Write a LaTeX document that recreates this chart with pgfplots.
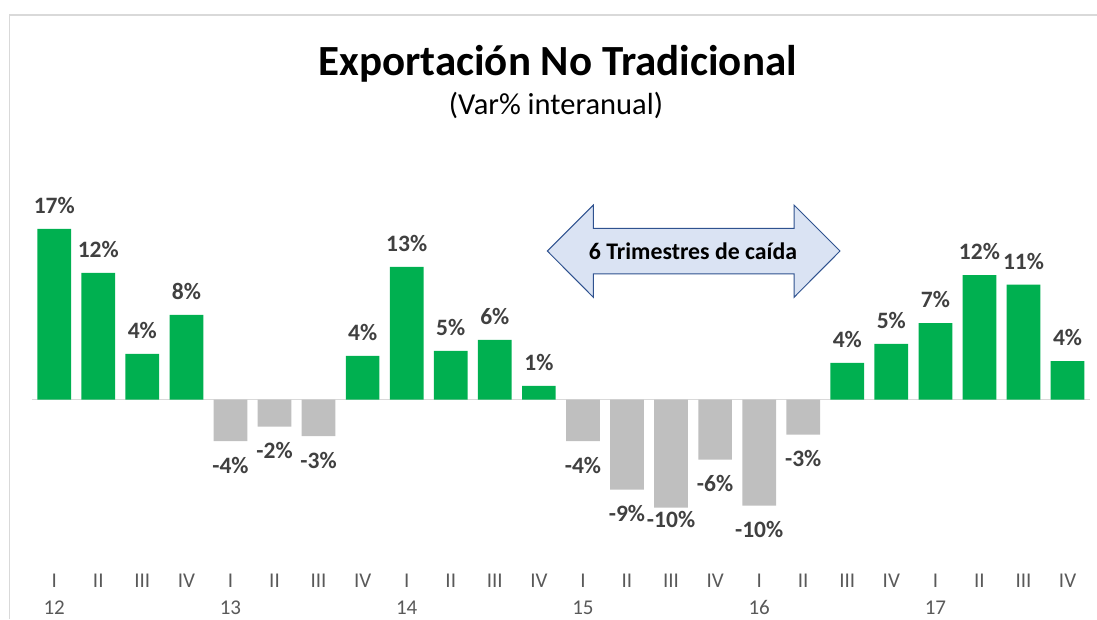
\documentclass[border=0pt]{standalone}
\usepackage{pgfplots}
\pgfplotsset{compat=1.18}
\usepackage{fontspec}
\setmainfont{Carlito}
\definecolor{cgreen}{HTML}{00B050}
\definecolor{cgray}{HTML}{BFBFBF}
\definecolor{ctext}{HTML}{404040}
\definecolor{ctick}{HTML}{595959}
\definecolor{cline}{HTML}{D9D9D9}
\definecolor{afill}{HTML}{DAE3F3}
\definecolor{aedge}{HTML}{2F528F}
\newcommand\raiselab[1]{\raisebox{12pt}[\height][\depth]{#1}}
\begin{document}
\begin{tikzpicture}[x=1pt,y=1pt]
\useasboundingbox (0,0) rectangle (1097,619);
\draw[cline, line width=1.5pt] (9.5,0) -- (9.5,604) -- (1097,604);
\begin{axis}[
  scale only axis,
  width=1057.4pt, height=350pt,
  at={(32.2pt,69.5pt)}, anchor=south west,
  xmin=-0.5, xmax=23.5, ymin=-15, ymax=20,
  ybar, bar width=33.7pt, bar shift=0pt,
  axis line style={draw=none},
  major tick length=0pt,
  ytick=\empty,
  extra y ticks={0}, extra y tick labels={},
  extra y tick style={grid=major, major grid style={draw=cline, line width=1.5pt}},
  xtick={0,...,23},
  xticklabels={I,II,III,IV,I,II,III,IV,I,II,III,IV,I,II,III,IV,I,II,III,IV,I,II,III,IV},
  xticklabel style={font=\fontsize{21}{24}\selectfont, text=ctick, anchor=base, yshift=-38pt},
  extra x ticks={0,4,8,12,16,20},
  extra x tick labels={12,13,14,15,16,17},
  extra x tick style={xticklabel style={yshift=-27pt}, grid=none},
  point meta=explicit symbolic,
  nodes near coords,
]
\addplot[fill=cgreen, draw=none,
  every node near coord/.append style={anchor=south, inner sep=0pt, yshift=15pt,
    font=\fontsize{23.5}{27}\selectfont\bfseries, text=ctext}]
  coordinates {
  (0,17.07) [17\%]
  (1,12.67) [12\%]
  (2,4.57) [4\%]
  (3,8.47) [8\%]
  (7,4.37) [4\%]
  (8,13.27) [13\%]
  (9,4.87) [5\%]
  (10,5.97) [6\%]
  (11,1.37) [1\%]
  (18,3.66) [4\%]
  (19,5.56) [5\%]
  (20,7.63) [7\%]
  (21,12.43) [12\%]
  (22,11.5) [11\%]
  (23,3.83) [4\%]
  };
\addplot[fill=cgray, draw=none,
  every node near coord/.append style={anchor=north, inner sep=0pt, yshift=-16pt,
    font=\fontsize{23.5}{27}\selectfont\bfseries, text=ctext}]
  coordinates {
  (4,-4.15) [-4\%]
  (5,-2.7) [-2\%]
  (6,-3.65) [-3\%]
  (12,-4.15) [-4\%]
  (13,-9.0) [-9\%]
  (14,-10.8) [\raiselab{-10\%}]
  (15,-6.0) [-6\%]
  (16,-10.6) [-10\%]
  (17,-3.5) [-3\%]
  };
\end{axis}
\node[anchor=base, font=\fontsize{43}{50}\selectfont\bfseries] at (557.6,543) {Exportación No Tradicional};
\node[anchor=base, font=\fontsize{30.5}{35}\selectfont] at (556,504) {(Var\% interanual)};
\draw[aedge, fill=afill, line width=1pt]
  (547.3,368) -- (593.3,414) -- (593.3,390.7) -- (794,390.7) -- (794,414) -- (840,368)
  -- (794,321.7) -- (794,345) -- (593.3,345) -- (593.3,321.7) -- cycle;
\node[font=\fontsize{23.8}{27}\selectfont\bfseries] at (693,367.5) {6 Trimestres de caída};
\end{tikzpicture}
\end{document}
